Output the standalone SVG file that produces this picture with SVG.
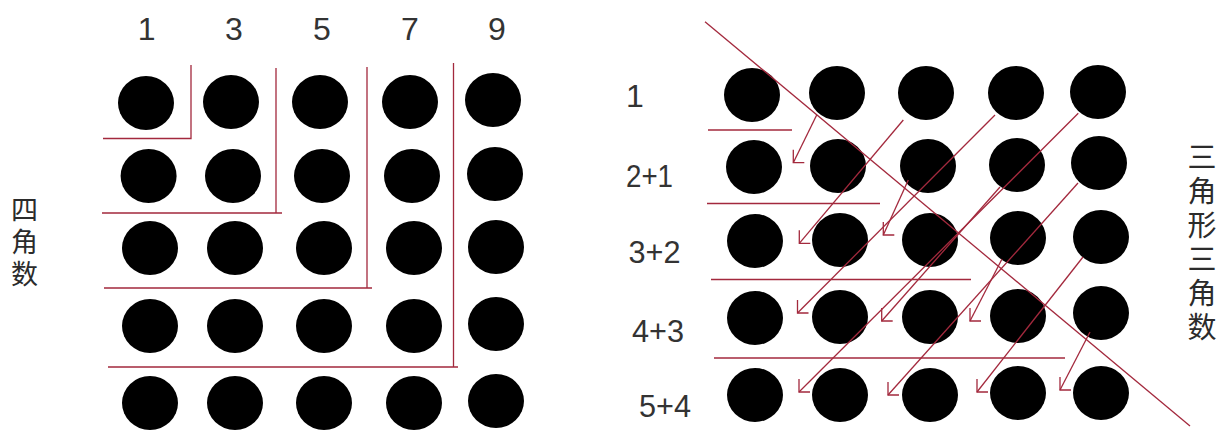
<svg xmlns="http://www.w3.org/2000/svg" width="1225" height="432" viewBox="0 0 1225 432">
<style>
.dot{fill:#000}
.ln{stroke:#a3293d;stroke-width:1.3;fill:none}
.num{font-family:"Liberation Sans",Arial,sans-serif;font-size:32px;fill:#333;text-anchor:middle}
.vt{font-family:"Noto Sans CJK SC","Noto Sans CJK JP",sans-serif;fill:#2b2b2b;writing-mode:vertical-rl;text-anchor:start;letter-spacing:5px}
</style>
<defs>
<path id="hd" d="M0,-13 L0,0 L11,0" class="ln"/>
</defs>
<rect width="1225" height="432" fill="#fff"/>

<g id="left-labels">
<text class="num" x="146.7" y="40" textLength="12">1</text>
<text class="num" x="234" y="40" textLength="16">3</text>
<text class="num" x="322" y="40" textLength="16">5</text>
<text class="num" x="410" y="40" textLength="16">7</text>
<text class="num" x="497" y="40" textLength="16">9</text>
</g>
<g id="left-title">
<text class="vt" font-size="27" x="24.5" y="196.5">四角数</text>
</g>

<g id="left-grid">
<ellipse class="dot" cx="146" cy="103" rx="28" ry="27"/>
<ellipse class="dot" cx="231" cy="102" rx="28" ry="27"/>
<ellipse class="dot" cx="320" cy="102" rx="28" ry="27"/>
<ellipse class="dot" cx="410" cy="102" rx="28" ry="27"/>
<ellipse class="dot" cx="493" cy="100" rx="28" ry="27"/>
<ellipse class="dot" cx="148.6" cy="176" rx="28" ry="27"/>
<ellipse class="dot" cx="233" cy="176" rx="28" ry="27"/>
<ellipse class="dot" cx="322" cy="176" rx="28" ry="27"/>
<ellipse class="dot" cx="412" cy="176" rx="28" ry="27"/>
<ellipse class="dot" cx="495" cy="174" rx="28" ry="27"/>
<ellipse class="dot" cx="150" cy="248" rx="28" ry="27"/>
<ellipse class="dot" cx="235" cy="248" rx="28" ry="27"/>
<ellipse class="dot" cx="324" cy="248" rx="28" ry="27"/>
<ellipse class="dot" cx="414" cy="248" rx="28" ry="27"/>
<ellipse class="dot" cx="496" cy="247" rx="28" ry="27"/>
<ellipse class="dot" cx="150" cy="326" rx="28" ry="27"/>
<ellipse class="dot" cx="235" cy="326" rx="28" ry="27"/>
<ellipse class="dot" cx="324" cy="326" rx="28" ry="27"/>
<ellipse class="dot" cx="414" cy="326" rx="28" ry="27"/>
<ellipse class="dot" cx="496" cy="324" rx="28" ry="27"/>
<ellipse class="dot" cx="150" cy="403" rx="28" ry="27"/>
<ellipse class="dot" cx="235" cy="403" rx="28" ry="27"/>
<ellipse class="dot" cx="324" cy="403" rx="28" ry="27"/>
<ellipse class="dot" cx="414" cy="403" rx="28" ry="27"/>
<ellipse class="dot" cx="496" cy="401" rx="28" ry="27"/>
</g>

<g id="left-lines" class="ln">
<path d="M191,65 V138.5 H103"/>
<path d="M276,68 V213 M102,213 H282"/>
<path d="M367,67 V288 M104,288 H372"/>
<path d="M453.5,63 V367 M108,367 H458"/>
</g>

<g id="right-labels">
<text class="num" x="635" y="107" textLength="12">1</text>
<text class="num" x="649.5" y="187" textLength="47" lengthAdjust="spacingAndGlyphs">2+1</text>
<text class="num" x="654.5" y="263" textLength="52" lengthAdjust="spacingAndGlyphs">3+2</text>
<text class="num" x="658" y="342" textLength="52" lengthAdjust="spacingAndGlyphs">4+3</text>
<text class="num" x="665" y="417" textLength="52" lengthAdjust="spacingAndGlyphs">5+4</text>
</g>
<g id="right-title">
<text class="vt" font-size="29" x="1202" y="142.5">三角形三角数</text>
</g>

<g id="right-grid">
<ellipse class="dot" cx="752" cy="95" rx="28" ry="27"/>
<ellipse class="dot" cx="837" cy="93" rx="28" ry="27"/>
<ellipse class="dot" cx="926" cy="93" rx="28" ry="27"/>
<ellipse class="dot" cx="1016" cy="93" rx="28" ry="27"/>
<ellipse class="dot" cx="1098" cy="92" rx="28" ry="27"/>
<ellipse class="dot" cx="754" cy="167" rx="28" ry="27"/>
<ellipse class="dot" cx="838" cy="166" rx="28" ry="27"/>
<ellipse class="dot" cx="928" cy="166" rx="28" ry="27"/>
<ellipse class="dot" cx="1017" cy="165" rx="28" ry="27"/>
<ellipse class="dot" cx="1099" cy="163" rx="28" ry="27"/>
<ellipse class="dot" cx="755" cy="241" rx="28" ry="27"/>
<ellipse class="dot" cx="840" cy="240" rx="28" ry="27"/>
<ellipse class="dot" cx="930" cy="240" rx="28" ry="27"/>
<ellipse class="dot" cx="1018" cy="238" rx="28" ry="27"/>
<ellipse class="dot" cx="1101" cy="237" rx="28" ry="27"/>
<ellipse class="dot" cx="755" cy="318" rx="28" ry="27"/>
<ellipse class="dot" cx="840" cy="317" rx="28" ry="27"/>
<ellipse class="dot" cx="930" cy="317" rx="28" ry="27"/>
<ellipse class="dot" cx="1018" cy="316" rx="28" ry="27"/>
<ellipse class="dot" cx="1101" cy="313" rx="28" ry="27"/>
<ellipse class="dot" cx="755" cy="395" rx="28" ry="27"/>
<ellipse class="dot" cx="840" cy="395" rx="28" ry="27"/>
<ellipse class="dot" cx="930" cy="395" rx="28" ry="27"/>
<ellipse class="dot" cx="1018" cy="393" rx="28" ry="27"/>
<ellipse class="dot" cx="1101" cy="393" rx="28" ry="27"/>
</g>

<g id="connectors" class="ln">
<path d="M708,130 H792"/>
<path d="M707,203.5 H880"/>
<path d="M711,279.5 H971"/>
<path d="M714,358 H1065"/>
<path d="M705,21.7 L1190,426"/>
<path d="M816.7,115 L793.3,162.7"/>
<path d="M903.3,120 L799.3,243.3"/>
<path d="M995,115 L797.5,313"/>
<path d="M1078.3,113.3 L799,392"/>
<path d="M908.3,180 L883.3,235"/>
<path d="M1000,187 L881.7,321"/>
<path d="M1078,183 L888,395"/>
<path d="M1002,259 L970,321"/>
<path d="M1083,257 L977,392"/>
<path d="M1090,332 L1060,390"/>
<use href="#hd" x="793.3" y="162.7"/>
<use href="#hd" x="799.3" y="243.3"/>
<use href="#hd" x="797.5" y="313"/>
<use href="#hd" x="799" y="392"/>
<use href="#hd" x="883.3" y="235"/>
<use href="#hd" x="881.7" y="321"/>
<use href="#hd" x="888" y="395"/>
<use href="#hd" x="970" y="321"/>
<use href="#hd" x="977" y="392"/>
<use href="#hd" x="1060" y="390"/>
</g>
</svg>
